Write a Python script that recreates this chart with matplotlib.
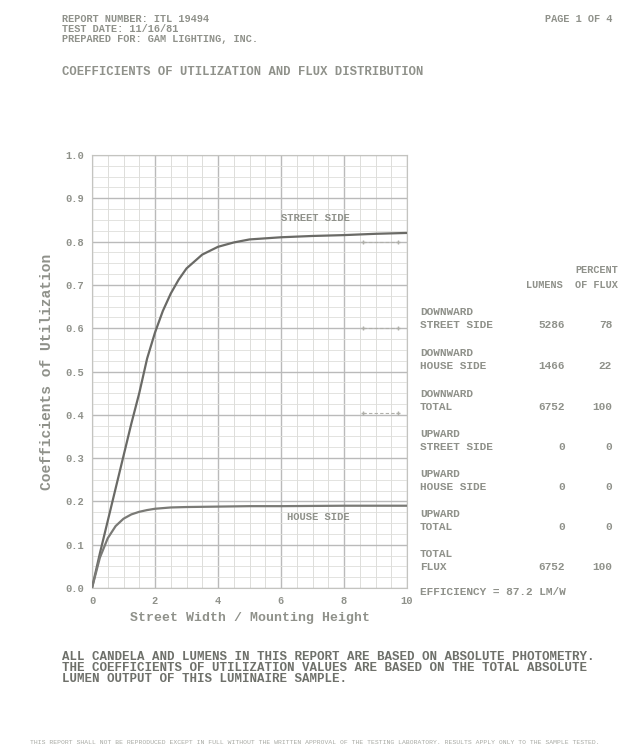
import matplotlib
matplotlib.use("Agg")
import matplotlib.pyplot as plt
import numpy as np

W, H = 621, 754
FONT = ["Liberation Mono", "DejaVu Sans Mono"]
TXT = "#8f918a"; DARK = "#6e706a"

# ---- data ----
street_x = [0, 0.25, 0.5, 0.75, 1, 1.25, 1.5, 1.75, 2, 2.25, 2.5, 2.75, 3, 3.5, 4, 4.5, 5, 6, 7, 8, 9, 10]
street_y = [0, 0.08, 0.155, 0.23, 0.305, 0.38, 0.45, 0.53, 0.59, 0.64, 0.68, 0.712, 0.738, 0.77, 0.788,
            0.798, 0.805, 0.81, 0.813, 0.815, 0.818, 0.82]
house_x = [0, 0.25, 0.5, 0.75, 1, 1.25, 1.5, 1.75, 2, 2.5, 3, 4, 5, 6, 8, 10]
house_y = [0, 0.07, 0.115, 0.143, 0.16, 0.17, 0.176, 0.18, 0.183, 0.186, 0.187, 0.188, 0.189, 0.189, 0.19, 0.19]
x_ticks = [0, 2, 4, 6, 8, 10]
y_ticks = [0.0, 0.1, 0.2, 0.3, 0.4, 0.5, 0.6, 0.7, 0.8, 0.9, 1.0]

header = ["REPORT NUMBER: ITL 19494", "TEST DATE: 11/16/81", "PREPARED FOR: GAM LIGHTING, INC."]
page = "PAGE 1 OF 4"
title = "COEFFICIENTS OF UTILIZATION AND FLUX DISTRIBUTION"
row_top = ["DOWNWARD", "DOWNWARD", "DOWNWARD", "UPWARD", "UPWARD", "UPWARD", "TOTAL"]
row_bot = ["STREET SIDE", "HOUSE SIDE", "TOTAL", "STREET SIDE", "HOUSE SIDE", "TOTAL", "FLUX"]
lumens = ["5286", "1466", "6752", "0", "0", "0", "6752"]
percent = ["78", "22", "100", "0", "0", "0", "100"]
efficiency = "EFFICIENCY = 87.2 LM/W"
note = ["ALL CANDELA AND LUMENS IN THIS REPORT ARE BASED ON ABSOLUTE PHOTOMETRY.",
        "THE COEFFICIENTS OF UTILIZATION VALUES ARE BASED ON THE TOTAL ABSOLUTE",
        "LUMEN OUTPUT OF THIS LUMINAIRE SAMPLE."]
footer = ("THIS REPORT SHALL NOT BE REPRODUCED EXCEPT IN FULL WITHOUT THE WRITTEN APPROVAL OF THE "
          "TESTING LABORATORY. RESULTS APPLY ONLY TO THE SAMPLE TESTED.")

fig = plt.figure(figsize=(W / 100, H / 100), dpi=100)
def ftxt(x, y, s, **kw):
    kw.setdefault("family", FONT); kw.setdefault("color", TXT); kw.setdefault("fontsize", 9.4)
    kw.setdefault("weight", "bold"); kw.setdefault("va", "center")
    fig.text(x / W, 1 - y / H, s, **kw)

for i, s in enumerate(header):
    ftxt(62, 19 + 10 * i, s, fontsize=7.4)
ftxt(612, 19, page, fontsize=7.4, ha="right")
ftxt(62, 72, title, fontsize=8.8)

# ---- chart ----
ax = fig.add_axes([92 / W, 1 - 588 / H, (407 - 92) / W, (588 - 155) / H])
ax.set_xlim(0, 10); ax.set_ylim(0, 1.0)
for v in np.arange(0, 10.01, 0.5):
    ax.axvline(v, color="#bababa" if v % 2 == 0 else "#d8d8d4", lw=1.0 if v % 2 == 0 else 0.6, zorder=1)
for v in np.arange(0, 1.001, 0.025):
    major = abs(v * 10 - round(v * 10)) < 1e-6
    ax.axhline(v, color="#bababa" if major else "#dededa", lw=1.0 if major else 0.6, zorder=1)
ax.plot(street_x, street_y, color="#6a6a66", lw=1.6, zorder=3)
ax.plot(house_x, house_y, color="#7a7a76", lw=1.6, zorder=3)
ax.text(6.0, 0.855, "STREET SIDE", family=FONT, fontsize=7.6, weight="bold", color=TXT, va="center")
ax.text(6.2, 0.165, "HOUSE SIDE", family=FONT, fontsize=7.6, weight="bold", color=TXT, va="center")
for yv in [0.8, 0.6, 0.405]:
    ax.plot([8.6, 9.7], [yv, yv], color="#b0b0aa", lw=0.8, ls=(0, (3, 2)), marker="+", ms=3,
            markevery=[0, 1], zorder=2)
ax.set_xticks(x_ticks); ax.set_yticks(y_ticks)
ax.set_xticklabels([str(v) for v in x_ticks], family=FONT, fontsize=7.5, weight="bold", color=TXT)
ax.set_yticklabels(["%.1f" % v for v in y_ticks], family=FONT, fontsize=7.5, weight="bold", color=TXT)
ax.tick_params(length=0, pad=6)
for sp in ax.spines.values():
    sp.set_color("#c4c4c0"); sp.set_linewidth(0.8)
ax.set_xlabel("Street Width / Mounting Height", family=FONT, fontsize=9.5, weight="bold", color=TXT, labelpad=4)
ax.set_ylabel("Coefficients of Utilization", family=FONT, fontsize=10.5, weight="bold", color=TXT, labelpad=8)

# ---- flux table ----
ftxt(618, 270, "PERCENT", fontsize=7.4, ha="right")
ftxt(563, 285, "LUMENS", fontsize=7.4, ha="right")
ftxt(618, 285, "OF FLUX", fontsize=7.4, ha="right")
for i in range(len(row_top)):
    y0 = 312 + 41 * i if i < 3 else 312 + 41 * 3 + 40 * (i - 3) - 1
    ftxt(420, y0, row_top[i], fontsize=8.0)
    ftxt(420, y0 + 13, row_bot[i], fontsize=8.0)
    ftxt(565, y0 + 13, lumens[i], fontsize=8.0, ha="right")
    ftxt(612, y0 + 13, percent[i], fontsize=8.0, ha="right")
ftxt(420, 592, efficiency, fontsize=8.0)

for i, s in enumerate(note):
    ftxt(62, 657 + 11 * i, s, fontsize=9.0, color=DARK)
ftxt(30, 742, footer, fontsize=4.6, color="#a8aaa4", weight="normal")

fig.savefig("out.png", dpi=100, facecolor="white")
